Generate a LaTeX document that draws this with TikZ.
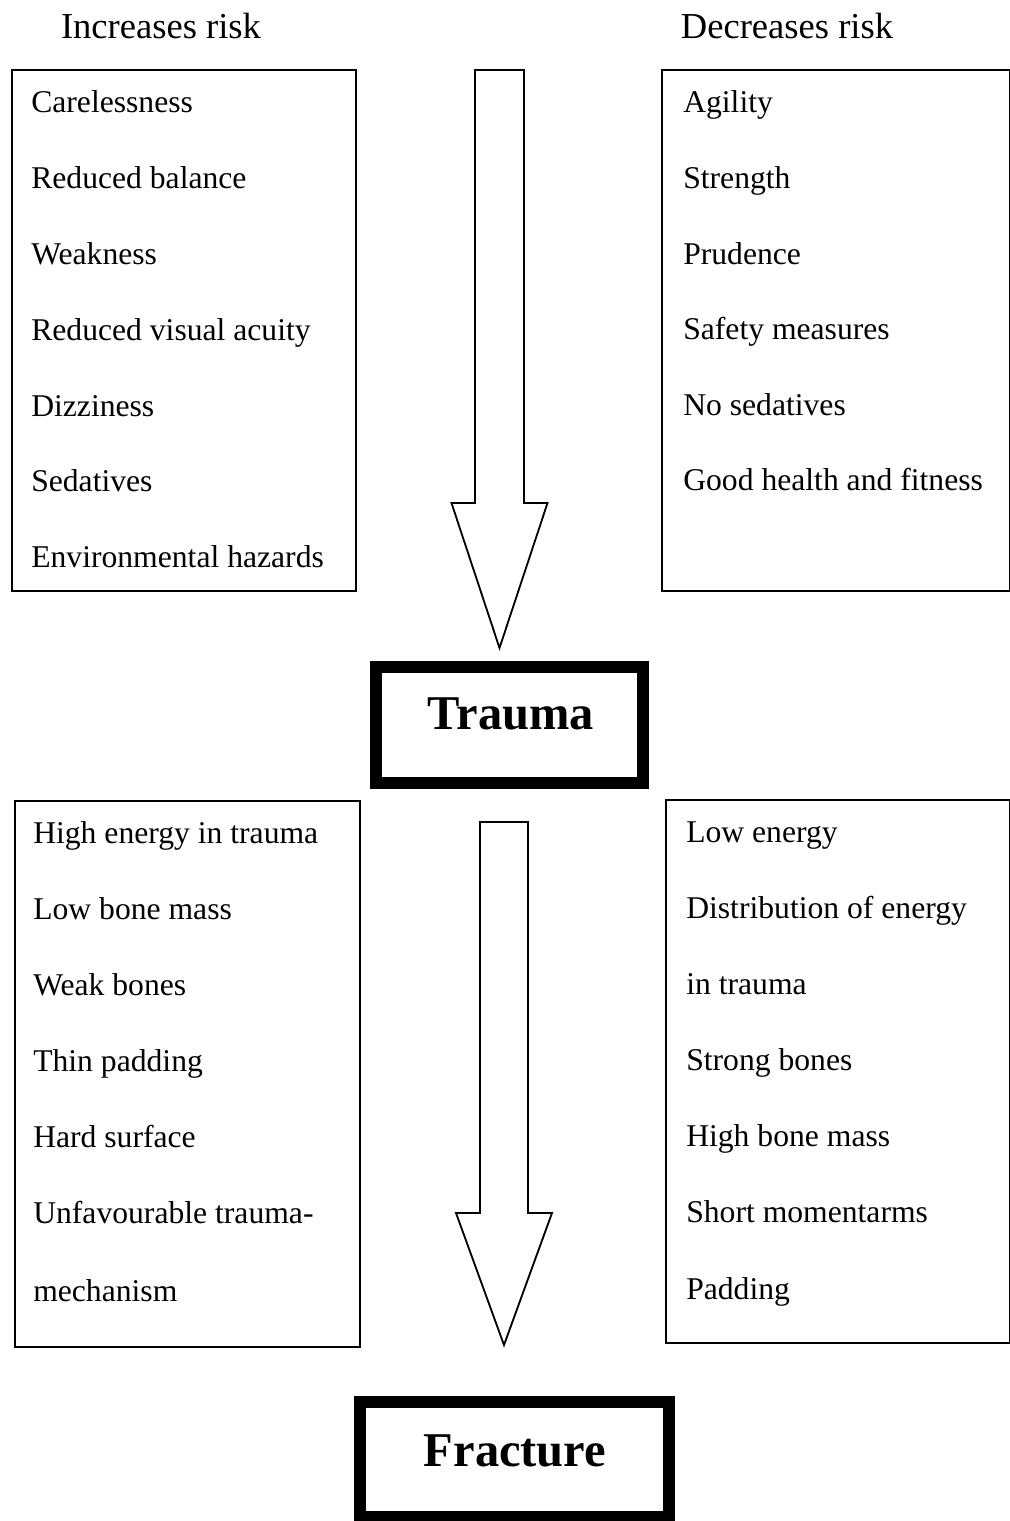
\documentclass[tikz,border=0pt]{standalone}
\usepackage{fontspec}
\setmainfont{Liberation Serif}
\usetikzlibrary{fit,calc}

% outline of a hollow block arrow: top, tip, shaft half width, head half width, head length
\newcommand{\blockarrow}[5]{%
  \draw [bigarrow] ($(#1)+(-#3,0)$) -- ($(#1)+(#3,0)$) -- ($(#2)+(#3,-#5)$) -- ($(#2)+(#4,-#5)$)
    -- (#2) -- ($(#2)+(-#4,-#5)$) -- ($(#2)+(-#3,-#5)$) -- cycle;}

\begin{document}
\begin{tikzpicture}[x=0.025cm,y=-0.025cm,
    head/.style={anchor=base,inner sep=0pt,font=\fontsize{26}{30}\selectfont},
    item/.style={anchor=base west,inner sep=0pt,font=\fontsize{22.5}{26}\selectfont},
    listbox/.style={draw,line width=1.1pt,inner sep=0pt},
    bigbox/.style={draw,line width=9.2pt,inner sep=0pt},
    title/.style={anchor=base,inner sep=0pt,font=\fontsize{34.5}{40}\selectfont\bfseries},
    bigarrow/.style={draw,line width=1.3pt,line join=miter}]
        \useasboundingbox (0,0) rectangle (1009,1521);

        \draw (161,38) node (incHead) [head] {Increases risk};
        \draw (787,38) node (decHead) [head] {Decreases risk};

        % upper boxes
        \node (incBox) [listbox,fit={(12,70) (356,591)}] {};
        \node (decBox) [listbox,fit={(662,70) (1010,591)}] {};

        \draw (31,112) node (inc1) [item] {Carelessness};
        \draw (31,188) node (inc2) [item] {Reduced balance};
        \draw (31,264) node (inc3) [item] {Weakness};
        \draw (31,340) node (inc4) [item] {Reduced visual acuity};
        \draw (31,416) node (inc5) [item] {Dizziness};
        \draw (31,491) node (inc6) [item] {Sedatives};
        \draw (31,567) node (inc7) [item] {Environmental hazards};

        \draw (683,112) node (dec1) [item] {Agility};
        \draw (683,188) node (dec2) [item] {Strength};
        \draw (683,264) node (dec3) [item] {Prudence};
        \draw (683,339) node (dec4) [item] {Safety measures};
        \draw (683,415) node (dec5) [item] {No sedatives};
        \draw (683,490) node (dec6) [item] {Good health and fitness};

        \coordinate (topA) at (499.5,70);
        \coordinate (tipA) at (499.5,648);
        \blockarrow{topA}{tipA}{24.5}{48}{145}

        \node (trauma) [bigbox,fit={(376,667) (643,783)}] {};
        \draw (511,729) node (traumaText) [title] {Trauma};

        % lower boxes
        \node (hiBox) [listbox,fit={(15,801) (360,1347)}] {};
        \node (loBox) [listbox,fit={(666,800) (1010,1343)}] {};

        \draw (33,843) node (hi1) [item] {High energy in trauma};
        \draw (33,919) node (hi2) [item] {Low bone mass};
        \draw (33,995) node (hi3) [item] {Weak bones};
        \draw (33,1071) node (hi4) [item] {Thin padding};
        \draw (33,1147) node (hi5) [item] {Hard surface};
        \draw (33,1223) node (hi6) [item] {Unfavourable trauma-};
        \draw (33,1301) node (hi7) [item] {mechanism};

        \draw (686,842) node (lo1) [item] {Low energy};
        \draw (686,918) node (lo2) [item] {Distribution of energy};
        \draw (686,994) node (lo3) [item] {in trauma};
        \draw (686,1070) node (lo4) [item] {Strong bones};
        \draw (686,1146) node (lo5) [item] {High bone mass};
        \draw (686,1222) node (lo6) [item] {Short momentarms};
        \draw (686,1299) node (lo7) [item] {Padding};

        \coordinate (topB) at (504,822);
        \coordinate (tipB) at (504,1345);
        \blockarrow{topB}{tipB}{24}{48}{132}

        \node (fracture) [bigbox,fit={(360,1402) (669,1517)}] {};
        \draw (515,1466) node (fractureText) [title] {Fracture};
    \end{tikzpicture}
\end{document}
